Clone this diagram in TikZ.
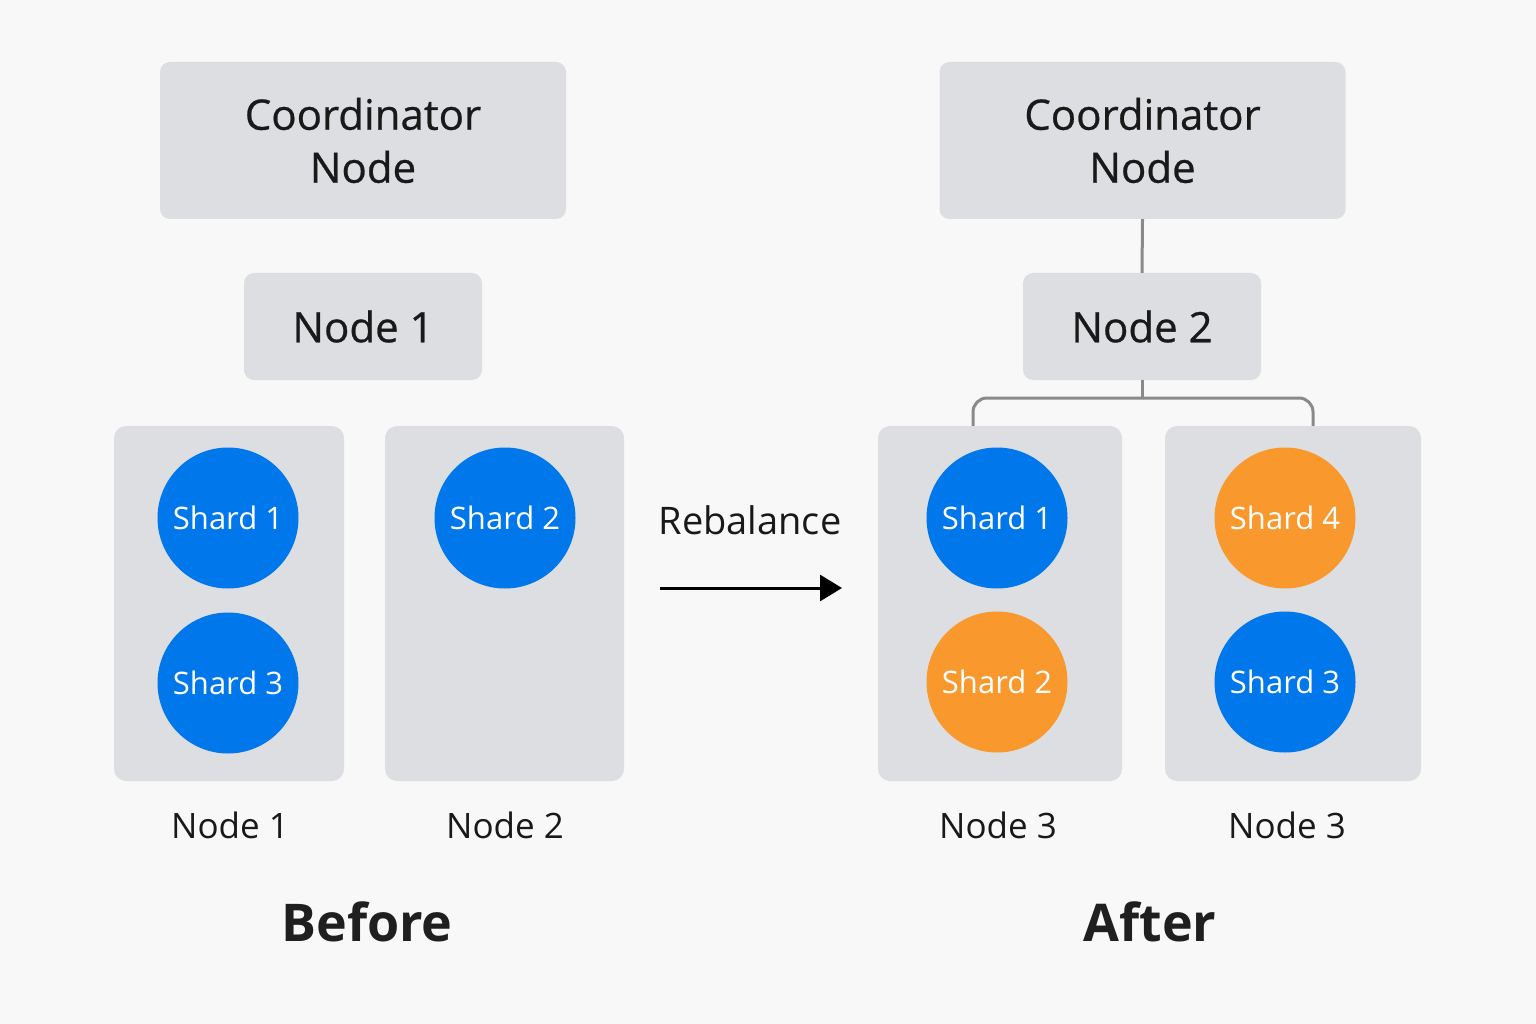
\documentclass[tikz,border=0pt]{standalone}
\usepackage{fontspec}
\setmainfont{Open Sans}
\newfontfamily\titlefont[FakeBold=0.6]{Open Sans}
\usetikzlibrary{arrows.meta}
\definecolor{bg}{HTML}{F8F8F8}
\definecolor{boxgray}{HTML}{DCDEE1}
\definecolor{shardblue}{HTML}{0077EA}
\definecolor{shardorange}{HTML}{F9982C}
\definecolor{linegray}{HTML}{8A8A8A}
\tikzset{
  box/.style={fill=boxgray, draw=none, rounded corners=10pt, inner sep=0pt},
  title/.style={box, align=center, font=\titlefont\fontsize{42}{53}\selectfont, text=black!90},
  holder/.style={box, rounded corners=12pt},
  shard/.style={circle, minimum size=141pt, inner sep=0pt, text=white, font=\fontsize{31}{38}\selectfont},
  blue/.style={shard, fill=shardblue},
  orange/.style={shard, fill=shardorange},
  lab/.style={font=\fontsize{35}{42}\selectfont, text=black!90},
  big/.style={font=\bfseries\fontsize{52}{62}\selectfont, text=black!88},
  conn/.style={draw=linegray, line width=3pt},
}
\begin{document}
\begin{tikzpicture}[x=1pt,y=-1pt]
\fill[bg] (0,0) rectangle (1536,1024);
\useasboundingbox (0,0) rectangle (1536,1024);
% ---- Before ----
\node[title, minimum width=406pt, minimum height=157pt] (coordL) at (363,140.5) {Coordinator\\Node};
\node[title, minimum width=238pt, minimum height=107pt] (n1top) at (363,326.5) {Node 1};
\node[holder, minimum width=230pt, minimum height=355pt] (hL1) at (229,603.5) {};
\node[holder, minimum width=239pt, minimum height=355pt] (hL2) at (504.5,603.5) {};
\node[blue] (l1) at (228,518) {Shard 1};
\node[blue] (l3) at (228,683) {Shard 3};
\node[blue] (l2) at (505,518) {Shard 2};
\node[lab] (labL1) at (230,825) {Node 1};
\node[lab] (labL2) at (505,825) {Node 2};
\node[big] (before) at (367,922) {Before};
% ---- Arrow ----
\node[font=\fontsize{38}{46}\selectfont, text=black!90] (reb) at (750,520) {Rebalance};
\coordinate (a0) at (660,588);
\coordinate (a1) at (842,588);
\draw[line width=3pt, -{Triangle[length=22pt,width=26pt]}] (a0) -- (a1);
% ---- After ----
\node[title, minimum width=406pt, minimum height=157pt] (coordR) at (1142.5,140.5) {Coordinator\\Node};
\node[title, minimum width=238pt, minimum height=107pt] (n2top) at (1142,326.5) {Node 2};
\node[holder, minimum width=244pt, minimum height=355pt] (hR1) at (1000,603.5) {};
\node[holder, minimum width=256pt, minimum height=355pt] (hR2) at (1293,603.5) {};
\node[blue] (r1) at (997,518) {Shard 1};
\node[orange] (r2) at (997,682) {Shard 2};
\node[orange] (r4) at (1285,518) {Shard 4};
\node[blue] (r3) at (1285,682) {Shard 3};
\node[lab] (labR1) at (998,825) {Node 3};
\node[lab] (labR2) at (1287,825) {Node 3};
\node[big] (after) at (1150,922) {After};
% connectors
\draw[conn] (coordR.south) -- (n2top.north);
\coordinate (j) at (1142,398);
\draw[conn] (n2top.south) -- (j);
\draw[conn, rounded corners=14pt] (hR1.north -| 973,0) -- (973,398) -- (1313,398) -- (hR2.north -| 1313,0);
\end{tikzpicture}
\end{document}
